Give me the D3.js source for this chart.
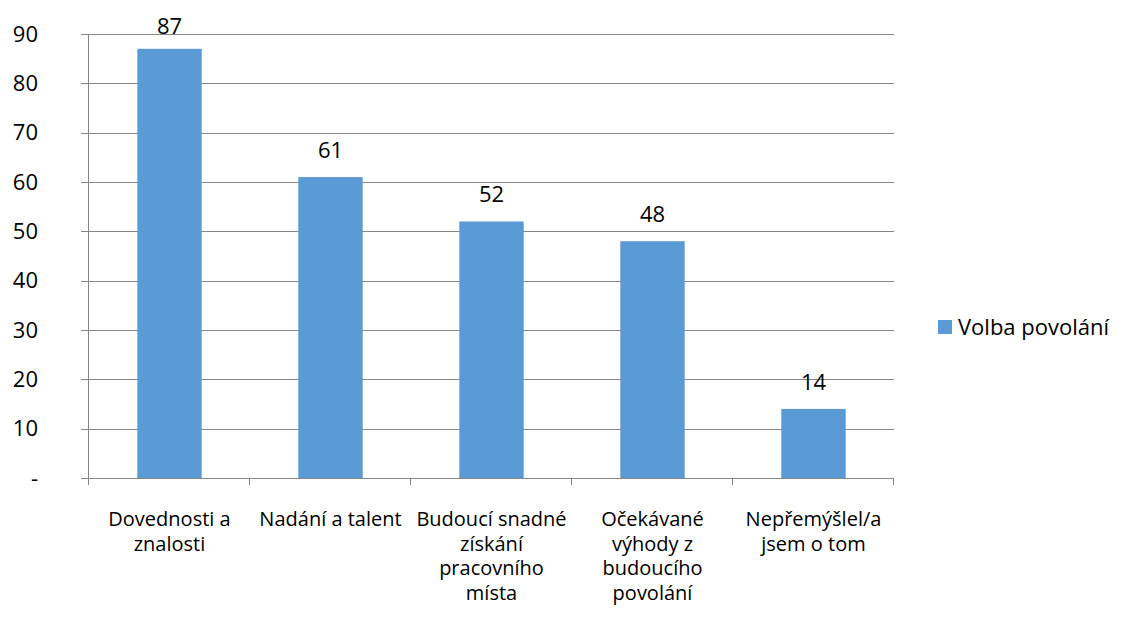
<!DOCTYPE html>
<html>
<head>
<meta charset="utf-8">
<script src="https://cdn.jsdelivr.net/npm/d3@7"></script>
<style>
  body { margin: 0; background: #fff; }
  text { font-family: "Open Sans", sans-serif; fill: #000; }
</style>
</head>
<body>
<svg class="chart"></svg>
<script>
var categories = ["Dovednosti a\nznalosti", "Nadání a talent", "Budoucí snadné\nzískání\npracovního\nmísta", "Očekávané\nvýhody z\nbudoucího\npovolání", "Nepřemýšlel/a\njsem o tom"];
var values = [87, 61, 52, 48, 14];
var yTicks = [0, 10, 20, 30, 40, 50, 60, 70, 80, 90];
var seriesName = "Volba povolání";

var width = 1122,
    height = 617;

var plotLeft = 89, plotRight = 894, plotTop = 34, plotBottom = 478;

var chart = d3.select(".chart")
    .attr("width", width)
    .attr("height", height);

var x = d3.scaleBand()
    .domain(categories)
    .range([plotLeft, plotRight])
    .paddingInner(0.6)
    .paddingOuter(0.3);

var y = d3.scaleLinear()
    .domain([0, 90])
    .range([plotBottom, plotTop]);

// gridlines
chart.append("g")
  .selectAll("line")
    .data(yTicks.slice(1))
  .enter().append("line")
    .attr("x1", plotLeft - 8)
    .attr("x2", plotRight)
    .attr("y1", function(d) { return Math.round(y(d)) + 0.5; })
    .attr("y2", function(d) { return Math.round(y(d)) + 0.5; })
    .attr("stroke", "#868686")
    .attr("stroke-width", 1);

// bars
chart.append("g")
  .selectAll("rect")
    .data(values)
  .enter().append("rect")
    .attr("x", function(d, i) { return x(categories[i]); })
    .attr("y", function(d) { return y(d); })
    .attr("width", x.bandwidth())
    .attr("height", function(d) { return plotBottom - y(d); })
    .attr("fill", "#5b9bd5");

// value labels (tallest one is pushed down to stay inside the chart)
chart.append("g")
  .selectAll("text")
    .data(values)
  .enter().append("text")
    .attr("x", function(d, i) { return x(categories[i]) + x.bandwidth() / 2; })
    .attr("y", function(d) { return Math.max(y(d) - 19, plotTop); })
    .attr("text-anchor", "middle")
    .style("font-size", "22px")
    .text(function(d) { return d; });

// y axis
chart.append("line")
    .attr("x1", plotLeft - 0.5).attr("x2", plotLeft - 0.5)
    .attr("y1", plotTop).attr("y2", plotBottom)
    .attr("stroke", "#868686");

chart.append("line")
    .attr("x1", plotLeft - 8).attr("x2", plotLeft)
    .attr("y1", plotBottom + 0.5).attr("y2", plotBottom + 0.5)
    .attr("stroke", "#868686");

chart.append("g")
  .selectAll("text")
    .data(yTicks)
  .enter().append("text")
    .attr("x", 38)
    .attr("y", function(d) { return y(d); })
    .attr("dy", "0.35em")
    .attr("text-anchor", "end")
    .style("font-size", "22px")
    .text(function(d) { return d === 0 ? "-" : d; });

// x axis
chart.append("line")
    .attr("x1", plotLeft - 0.5).attr("x2", plotRight)
    .attr("y1", plotBottom + 0.5).attr("y2", plotBottom + 0.5)
    .attr("stroke", "#868686");

var bounds = d3.range(categories.length + 1).map(function(i) { return plotLeft + i * (plotRight - plotLeft) / categories.length; });
chart.append("g")
  .selectAll("line")
    .data(bounds)
  .enter().append("line")
    .attr("x1", function(d) { return Math.round(d) - 0.5; })
    .attr("x2", function(d) { return Math.round(d) - 0.5; })
    .attr("y1", plotBottom)
    .attr("y2", plotBottom + 7)
    .attr("stroke", "#868686");

var cat = chart.append("g")
  .selectAll("text")
    .data(categories)
  .enter().append("text")
    .attr("x", function(d) { return x(d) + x.bandwidth() / 2; })
    .attr("y", 526)
    .attr("text-anchor", "middle")
    .style("font-size", "20px");

cat.selectAll("tspan")
    .data(function(d) { return d.split("\n"); })
  .enter().append("tspan")
    .attr("x", function() { return d3.select(this.parentNode).attr("x"); })
    .attr("dy", function(d, i) { return i === 0 ? 0 : 24.5; })
    .text(function(d) { return d; });

// legend
var legend = chart.append("g");
legend.append("rect")
    .attr("x", 938).attr("y", 320)
    .attr("width", 14).attr("height", 14)
    .attr("fill", "#5b9bd5");
legend.append("text")
    .attr("x", 958).attr("y", 327)
    .attr("dy", "0.35em")
    .style("font-size", "22px")
    .text(seriesName);
</script>
</body>
</html>
